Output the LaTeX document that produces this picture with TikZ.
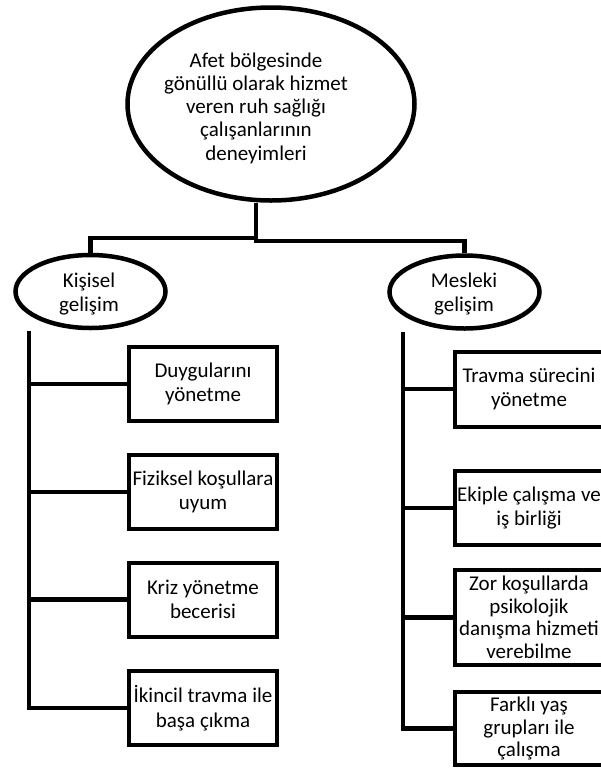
\documentclass[tikz,border=0pt]{standalone}
\usepackage{fontspec}
\setmainfont{Carlito}
\usetikzlibrary{shapes.geometric}
\tikzset{
  lw/.style={line width=4.5pt},
  oval/.style={ellipse, draw, lw, inner sep=0pt},
  ovaltext/.style={align=center, inner sep=0pt, font=\fontsize{21}{24}\selectfont},
  itembox/.style={rectangle, draw, line width=4pt, inner sep=0pt, minimum width=148pt, align=center, font=\fontsize{21}{24.5}\selectfont},
  conn/.style={lw, line join=miter}
}
\begin{document}
\begin{tikzpicture}[x=1pt,y=-1pt]
\useasboundingbox (0,0) rectangle (601,772);
\clip (0,0) rectangle (601,772);
\fill[white] (0,0) rectangle (601,772);

\node[oval, minimum width=287pt, minimum height=193pt] (main) at (271,104) {};
\node[ovaltext, font=\fontsize{21}{23.2}\selectfont] (maintext) at (256,108)
  {Afet bölgesinde\\gönüllü olarak hizmet\\veren ruh sağlığı\\çalışanlarının\\deneyimleri};

\node[oval, minimum width=150pt, minimum height=73pt] (kis) at (90.5,291.5) {};
\node[ovaltext] (kistext) at (89,294) {Kişisel\\gelişim};
\node[oval, minimum width=150pt, minimum height=73pt] (mes) at (464.5,292) {};
\node[ovaltext] (mestext) at (464,294.5) {Mesleki\\gelişim};

\coordinate (jl) at (256,238);
\coordinate (jr) at (256,241);
\draw[conn] (main.south -| jr) -- (jr) -- (jr -| mes.north) -- (mes.north);
\draw[conn] (jl) -| (kis.north);

% left items
\node[itembox, minimum height=74pt] (l1) at (203,384) {Duygularını\\yönetme};
\node[itembox, minimum height=74pt] (l2) at (203,492) {Fiziksel koşullara\\uyum};
\node[itembox, minimum height=74pt] (l3) at (203,599.5) {Kriz yönetme\\becerisi};
\node[itembox, minimum height=74pt] (l4) at (203,708) {İkincil travma ile\\başa çıkma};

\coordinate (lt) at (29,331);
\draw[conn] (lt) -- (l4.west -| lt) -- (l4.west);
\foreach \n in {l1,l2,l3} \draw[conn] (\n.west -| lt) -- (\n.west);

% right items
\node[itembox, minimum height=75pt] (r1) at (529,389) {Travma sürecini\\yönetme};
\node[itembox, minimum height=74pt] (r2) at (529,508) {Ekiple çalışma ve\\iş birliği};
\node[itembox, minimum height=95pt, font=\fontsize{21}{22.5}\selectfont] (r3) at (529,617.5) {Zor koşullarda\\psikolojik\\danışma hizmeti\\verebilme};
\node[itembox, minimum height=73pt, font=\fontsize{21}{22.5}\selectfont] (r4) at (529,728.5) {Farklı yaş\\grupları ile\\çalışma};

\coordinate (rt) at (403,332);
\draw[conn] (rt) -- (r4.west -| rt) -- (r4.west);
\foreach \n in {r1,r2,r3} \draw[conn] (\n.west -| rt) -- (\n.west);
\end{tikzpicture}
\end{document}
